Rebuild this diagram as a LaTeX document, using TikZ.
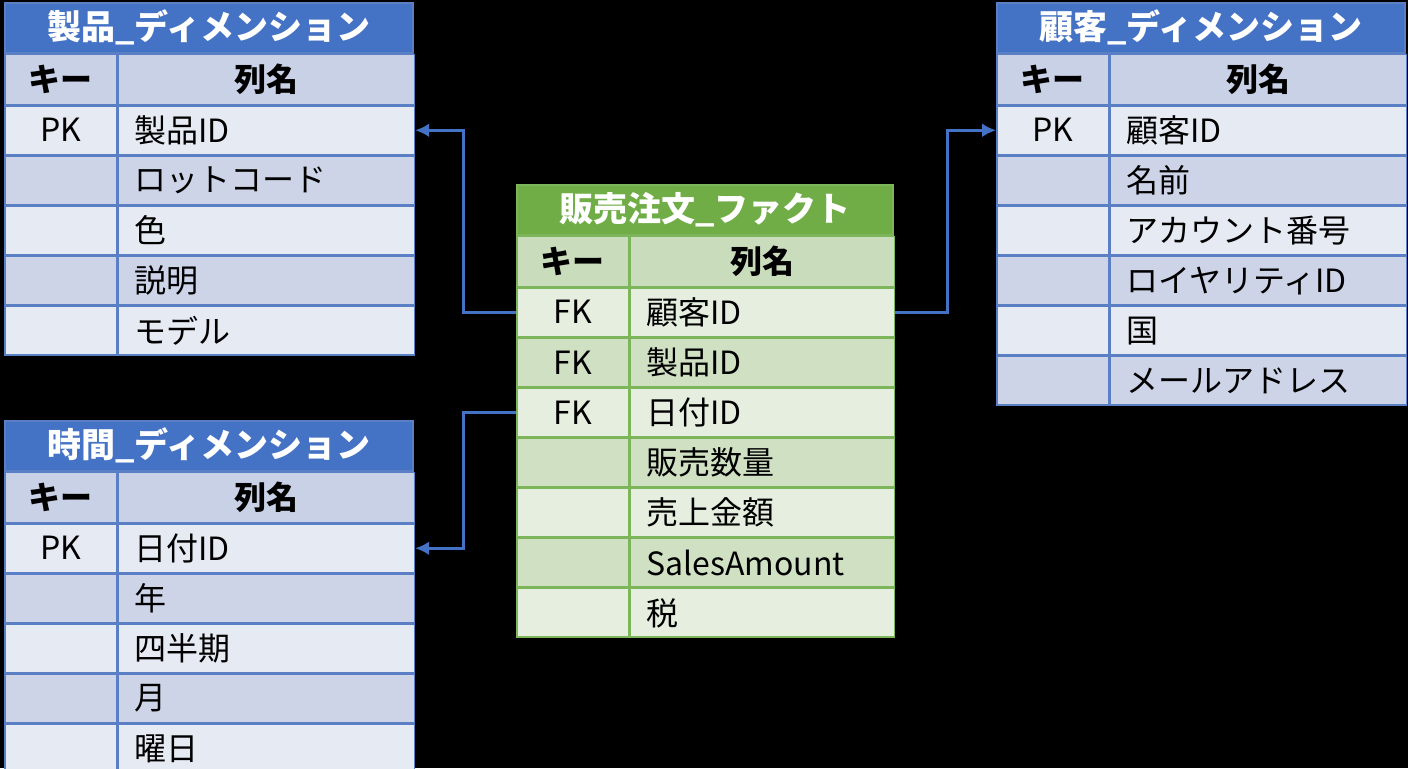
\documentclass[tikz,border=0pt]{standalone}
\usepackage{fontspec}
\setmainfont{Noto Sans CJK JP}
\usetikzlibrary{arrows.meta, positioning}
\definecolor{dimblue}{HTML}{4472C4}
\definecolor{dimline}{HTML}{5B7FC4}
\definecolor{dimhead}{HTML}{C9D1E6}
\definecolor{dimlight}{HTML}{E6EAF3}
\definecolor{dimdark}{HTML}{CDD4E8}
\definecolor{factgreen}{HTML}{70AD47}
\definecolor{factline}{HTML}{7DB55A}
\definecolor{facthead}{HTML}{C9DCBC}
\definecolor{factlight}{HTML}{E5EEDF}
\definecolor{factdark}{HTML}{CFE0C3}
\tikzset{
  % table cell style
  cell/.style={
    draw=#1
    , line width=0.8pt
    , anchor=north west
    , inner sep=0pt
    , minimum height=24.25pt
    , font=\fontsize{16}{16}\selectfont
  },
  % connector style
  link/.style={
    draw=dimblue
    , line width=1.5pt
    , -{Latex[length=7pt,width=7pt]}
  },
}
% #1 name, #2 x, #3 y, #4 key width, #5 column width, #6 colour set, #7 title, #8 rows
\newcommand\erdtable[8]{
  \node[cell=#6line, fill=#6main, minimum width=#4+#5, minimum height=25pt,
        text=white, font=\fontsize{17}{17}\selectfont\bfseries] (#1-h) at (#2,#3) {#7};
  \node[cell=#6line, fill=#6head, minimum width=#4, minimum height=25pt,
        font=\fontsize{16}{16}\selectfont\bfseries] (#1-k0) at (#1-h.south west) {キー};
  \node[cell=#6line, fill=#6head, minimum width=#5, minimum height=25pt,
        font=\fontsize{16}{16}\selectfont\bfseries] (#1-c0) at (#1-k0.north east) {列名};
  \foreach \key/\col [count=\i, remember=\i as \j (initially 0)] in {#8} {
    \ifodd\i \def\rowfill{#6light}\else\def\rowfill{#6dark}\fi
    \node[cell=#6line, fill=\rowfill, minimum width=#4] (#1-k\i) at (#1-k\j.south west) {\key};
    \node[cell=#6line, fill=\rowfill, minimum width=#5, text width=#5-16pt,
          align=left, inner xsep=8pt] (#1-c\i) at (#1-k\i.north east) {\col};
  }
}
\colorlet{dimmain}{dimblue}
\colorlet{factmain}{factgreen}
\begin{document}
\begin{tikzpicture}[x=0.5pt, y=-0.5pt]
  \fill[black] (0,0) rectangle (1408,768);
  \useasboundingbox (0,0) rectangle (1408,768);

  \erdtable{prod}{4}{2}{56pt}{148pt}{dim}{製品\_ディメンション}
    {PK/製品ID, /ロットコード, /色, /説明, /モデル}
  \erdtable{time}{4}{420}{56pt}{148pt}{dim}{時間\_ディメンション}
    {PK/日付ID, /年, /四半期, /月, /曜日}
  \erdtable{cust}{996}{2}{56pt}{148pt}{dim}{顧客\_ディメンション}
    {PK/顧客ID, /名前, /アカウント番号, /ロイヤリティID, /国, /メールアドレス}
  \erdtable{fact}{516}{184}{56pt}{132pt}{fact}{販売注文\_ファクト}
    {FK/顧客ID, FK/製品ID, FK/日付ID, /販売数量, /売上金額, /SalesAmount, /税}

  \draw[link] (fact-k1.west) -- ++(-53,0) |- (prod-c1.east);
  \draw[link] (fact-c1.east) -- ++(52,0) |- (cust-k1.west);
  \draw[link] (fact-k3.west) -- ++(-53,0) |- (time-c1.east);
\end{tikzpicture}
\end{document}
